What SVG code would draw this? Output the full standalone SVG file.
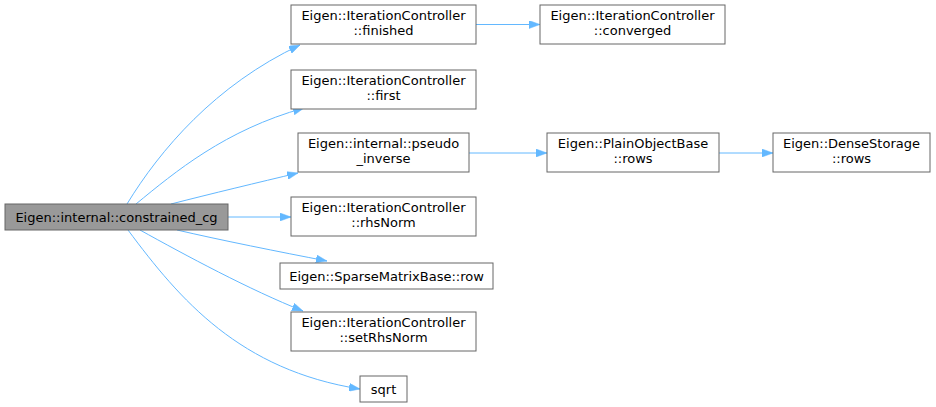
<svg xmlns="http://www.w3.org/2000/svg" width="936" height="407" viewBox="0 0 936 407">
<style>
.node rect{fill:#ffffff;stroke:#666666;stroke-width:1}
.node.main rect{fill:#999999}
.node text{font-family:"DejaVu Sans","Liberation Sans",sans-serif;font-size:13px;fill:#000000;text-anchor:middle}
.edges path{fill:none;stroke:#63b8ff;stroke-width:1;marker-end:url(#arr)}
</style>
<defs>
<marker id="arr" markerUnits="userSpaceOnUse" markerWidth="11" markerHeight="8" refX="11" refY="4" orient="auto">
<path d="M0,0 L11,4 L0,8 z" fill="#63b8ff" stroke="#63b8ff" stroke-width="0.5"/>
</marker>
</defs>
<rect width="936" height="407" fill="#ffffff"/>
<g class="edges">
<path d="M127,204 C160,150 215,85 300,45"/>
<path d="M136,204 C175,172 225,130 304,108"/>
<path d="M171,204 C210,194 260,182 298,173"/>
<path d="M228,217 L291,217"/>
<path d="M177,230 C220,240 280,252 327,261"/>
<path d="M140,230 C185,255 250,290 303,311"/>
<path d="M128,230 C180,300 240,370 360,389"/>
<path d="M476,24.5 L540,24.5"/>
<path d="M469,153 L547,153"/>
<path d="M719,153 L773,153"/>
</g>
<g id="node-main" class="node main"><rect x="5" y="204" width="223" height="26"/><text x="116.5" y="221.5">Eigen::internal::constrained_cg</text></g>
<g id="node-finished" class="node"><rect x="291" y="5" width="185" height="39"/><text x="383.5" y="20">Eigen::IterationController</text><text x="383.5" y="35">::finished</text></g>
<g id="node-converged" class="node"><rect x="540" y="5" width="185" height="39"/><text x="632.5" y="20">Eigen::IterationController</text><text x="632.5" y="35">::converged</text></g>
<g id="node-first" class="node"><rect x="291" y="70" width="185" height="39"/><text x="383.5" y="85">Eigen::IterationController</text><text x="383.5" y="100">::first</text></g>
<g id="node-pseudo" class="node"><rect x="298" y="133" width="171" height="39"/><text x="383.5" y="148">Eigen::internal::pseudo</text><text x="383.5" y="163">_inverse</text></g>
<g id="node-plainrows" class="node"><rect x="547" y="133" width="172" height="39"/><text x="633" y="148">Eigen::PlainObjectBase</text><text x="633" y="163">::rows</text></g>
<g id="node-denserows" class="node"><rect x="773" y="133" width="157" height="39"/><text x="851.5" y="148">Eigen::DenseStorage</text><text x="851.5" y="163">::rows</text></g>
<g id="node-rhsnorm" class="node"><rect x="291" y="197" width="185" height="39"/><text x="383.5" y="212">Eigen::IterationController</text><text x="383.5" y="227">::rhsNorm</text></g>
<g id="node-sparserow" class="node"><rect x="280" y="263" width="213" height="26"/><text x="386.5" y="280.5">Eigen::SparseMatrixBase::row</text></g>
<g id="node-setrhsnorm" class="node"><rect x="291" y="312" width="185" height="39"/><text x="383.5" y="327">Eigen::IterationController</text><text x="383.5" y="342">::setRhsNorm</text></g>
<g id="node-sqrt" class="node"><rect x="360" y="376" width="47" height="26"/><text x="383.5" y="393.5">sqrt</text></g>
</svg>
